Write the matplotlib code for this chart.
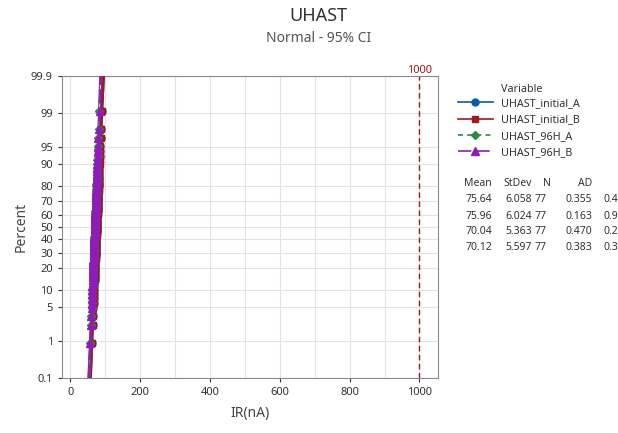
from statistics import NormalDist

import numpy as np
import matplotlib

matplotlib.use("Agg")
import matplotlib.pyplot as plt
from matplotlib.lines import Line2D
from matplotlib.ticker import FixedLocator, MultipleLocator

plt.rcParams["font.family"] = ["Noto Sans", "DejaVu Sans"]

# sorted IR values (nA), 77 per variable
uhast_initial_a = [
    61.0, 63.5, 64.9, 65.4, 66.3, 66.6, 67.5, 67.8, 68.3, 68.6, 69.1, 69.4, 69.6,
    70.1, 70.4, 70.5, 70.9, 71.2, 71.3, 71.7, 71.9, 72.0, 72.4, 72.6, 72.7, 73.0,
    73.3, 73.4, 73.6, 73.9, 74.0, 74.2, 74.5, 74.6, 74.8, 75.0, 75.2, 75.4, 75.6,
    75.8, 76.1, 76.3, 76.5, 76.6, 76.9, 77.0, 77.3, 77.5, 77.7, 77.9, 78.0, 78.3,
    78.5, 78.7, 78.9, 79.2, 79.3, 79.6, 79.9, 80.1, 80.3, 80.6, 80.8, 81.2, 81.4,
    81.6, 82.0, 82.3, 82.7, 83.0, 83.4, 83.9, 84.3, 85.0, 86.5, 87.6, 90.4,
]
uhast_initial_b = [
    60.9, 64.0, 65.1, 66.0, 66.4, 67.1, 67.6, 68.2, 68.5, 69.0, 69.3, 69.8, 70.0,
    70.3, 70.7, 70.9, 71.2, 71.4, 71.8, 72.0, 72.2, 72.5, 72.7, 72.9, 73.1, 73.4,
    73.6, 73.7, 74.0, 74.2, 74.4, 74.5, 74.8, 75.0, 75.1, 75.3, 75.6, 75.7, 75.9,
    76.2, 76.4, 76.6, 76.8, 77.0, 77.2, 77.4, 77.7, 77.9, 78.0, 78.3, 78.5, 78.8,
    79.0, 79.2, 79.5, 79.6, 79.9, 80.2, 80.4, 80.7, 80.9, 81.1, 81.5, 81.8, 82.0,
    82.4, 82.7, 83.1, 83.4, 83.8, 84.2, 84.7, 85.4, 86.1, 87.2, 88.3, 91.5,
]
uhast_96h_a = [
    57.2, 59.4, 60.1, 61.2, 61.6, 62.3, 62.6, 63.2, 63.4, 63.9, 64.2, 64.5, 64.8,
    65.0, 65.3, 65.7, 65.8, 66.0, 66.3, 66.5, 66.7, 66.9, 67.1, 67.3, 67.5, 67.7,
    67.9, 68.1, 68.2, 68.4, 68.6, 68.8, 68.9, 69.1, 69.3, 69.5, 69.6, 69.8, 70.0,
    70.2, 70.4, 70.5, 70.7, 70.9, 71.0, 71.2, 71.4, 71.6, 71.8, 72.0, 72.1, 72.3,
    72.5, 72.7, 72.9, 73.1, 73.3, 73.6, 73.8, 74.0, 74.3, 74.5, 74.8, 75.0, 75.3,
    75.6, 75.9, 76.3, 76.6, 77.1, 77.4, 78.0, 78.5, 79.2, 79.8, 80.9, 83.1,
]
uhast_96h_b = [
    56.8, 58.9, 59.8, 60.9, 61.5, 62.0, 62.6, 62.9, 63.3, 63.8, 64.0, 64.3, 64.6,
    64.9, 65.2, 65.5, 65.7, 66.0, 66.2, 66.4, 66.6, 66.9, 67.1, 67.2, 67.5, 67.7,
    67.9, 68.1, 68.3, 68.4, 68.6, 68.8, 69.0, 69.2, 69.4, 69.5, 69.7, 69.9, 70.1,
    70.3, 70.5, 70.7, 70.8, 71.0, 71.2, 71.4, 71.6, 71.8, 72.1, 72.3, 72.5, 72.6,
    72.9, 73.1, 73.4, 73.6, 73.9, 74.1, 74.3, 74.6, 74.9, 75.1, 75.4, 75.7, 76.0,
    76.3, 76.5, 76.8, 77.2, 77.5, 78.1, 78.6, 79.2, 79.9, 80.4, 81.5, 84.0,
]

variables = ["UHAST_initial_A", "UHAST_initial_B", "UHAST_96H_A", "UHAST_96H_B"]
series = [uhast_initial_a, uhast_initial_b, uhast_96h_a, uhast_96h_b]

# summary table shown in the chart (P column is cut by the figure edge)
means = [75.64, 75.96, 70.04, 70.12]
stdevs = [6.058, 6.024, 5.363, 5.597]
counts = [77, 77, 77, 77]
ad_stats = [0.355, 0.163, 0.470, 0.383]
p_visible = ["0.4", "0.9", "0.2", "0.3"]

percent_ticks = [0.1, 1, 5, 10, 20, 30, 40, 50, 60, 70, 80, 90, 95, 99, 99.9]
ref_line = 1000

colors = ["#0A5BAA", "#A3161C", "#2E8B3E", "#8E1CB8"]
markers = ["o", "s", "D", "^"]
marker_sizes = [5, 5, 4.5, 5.5]
styles = ["-", "-", (0, (3, 2.5)), (0, (8, 3))]

nd = NormalDist()


def to_z(pct):
    return np.array([nd.inv_cdf(p / 100.0) for p in np.atleast_1d(pct)])


fig = plt.figure(figsize=(6.18, 4.33), dpi=100)
ax = fig.add_axes([62 / 618, 1 - 378 / 433, 376 / 618, 302 / 433])

z_lo, z_hi = to_z(0.1)[0], to_z(99.9)[0]
z_line = np.linspace(z_lo, z_hi, 60)

for vals, mu, sd, n, col, mk, ms, ls in zip(
    series, means, stdevs, counts, colors, markers, marker_sizes, styles
):
    x = np.sort(np.array(vals))
    k = len(x)
    pct = (np.arange(1, k + 1) - 0.3) / (k + 0.4) * 100
    # fitted line and 95% CI
    fit = mu + sd * z_line
    half = 1.96 * sd * np.sqrt(1.0 / n + z_line ** 2 / (2.0 * (n - 1)))
    ax.plot(fit, z_line, color=col, lw=1.2, linestyle=ls, zorder=3)
    ax.plot(fit - half, z_line, color=col, lw=0.6, zorder=3)
    ax.plot(fit + half, z_line, color=col, lw=0.6, zorder=3)
    ax.plot(x, to_z(pct), linestyle="none", marker=mk, ms=ms, color=col, zorder=4)

ax.axvline(ref_line, color="#A3161C", lw=1.0, linestyle=(0, (4, 2.5)), zorder=2)
ax.text(ref_line, z_hi, str(ref_line), color="#A3161C", fontsize=8,
        ha="center", va="bottom", transform=ax.transData)

ax.set_xlim(-24, 1053)
ax.set_ylim(z_lo, z_hi)
ax.yaxis.set_major_locator(FixedLocator(to_z(percent_ticks)))
ax.set_yticklabels([f"{p:g}" for p in percent_ticks])
ax.xaxis.set_major_locator(MultipleLocator(200))
ax.xaxis.set_minor_locator(MultipleLocator(100))
ax.grid(True, which="both", color="#E3E3E3", lw=0.8, zorder=0)
ax.set_axisbelow(True)
ax.tick_params(axis="both", which="major", labelsize=8, colors="#333333",
               length=3, width=0.8)
ax.tick_params(axis="both", which="minor", length=0)
for s in ax.spines.values():
    s.set_color("#8A8A8A")
    s.set_linewidth(0.8)

ax.set_xlabel("IR(nA)", fontsize=10, color="#444444", labelpad=6)
ax.set_ylabel("Percent", fontsize=10, color="#444444", labelpad=2)

fig.text(0.515, 0.963, "UHAST", fontsize=13, color="#333333", ha="center", va="center")
fig.text(0.515, 0.912, "Normal - 95% CI", fontsize=10, color="#555555",
         ha="center", va="center")

# legend
handles = [
    Line2D([], [], color=c, marker=m, ms=ms, linestyle=ls, lw=1.2)
    for c, m, ms, ls in zip(colors, markers, marker_sizes, styles)
]
fig.text(501 / 618, 1 - 89 / 433, "Variable", fontsize=7.8, color="#333333",
         ha="left", va="center")
fig.legend(handles, variables, loc="upper left",
           bbox_to_anchor=(458 / 618, 1 - 98 / 433), frameon=False,
           fontsize=7.8, handlelength=3.2, handletextpad=0.8,
           labelspacing=0.5, borderpad=0, borderaxespad=0, labelcolor="#333333")

# statistics table
col_right = [492, 532, 546, 592]
headers = ["Mean", "StDev", "N", "AD"]
y0 = 184
for hx, h in zip([492, 532, 551, 592], headers):
    fig.text(hx / 618, 1 - y0 / 433, h, fontsize=7.5, color="#333333",
             ha="right", va="center")
for i in range(len(variables)):
    yy = 1 - (y0 + 16 * (i + 1)) / 433
    row = [f"{means[i]:.2f}", f"{stdevs[i]:.3f}", f"{counts[i]}", f"{ad_stats[i]:.3f}"]
    for cx, t in zip(col_right, row):
        fig.text(cx / 618, yy, t, fontsize=7.5, color="#333333", ha="right", va="center")
    fig.text(604 / 618, yy, p_visible[i], fontsize=7.5, color="#333333",
             ha="left", va="center")

fig.savefig("out.png", dpi=100)
